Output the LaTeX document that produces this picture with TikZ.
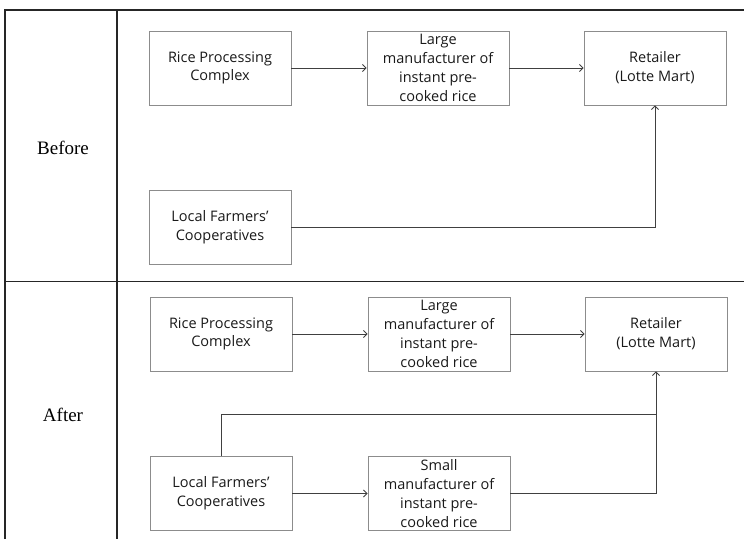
\documentclass[tikz,border=0pt]{standalone}
\usepackage{fontspec}
\setmainfont{Open Sans}
\newfontfamily\labelfont{Liberation Serif}
\usetikzlibrary{arrows.meta}
\definecolor{boxgray}{HTML}{8C8C8C}
\definecolor{linegray}{HTML}{404040}
\definecolor{tablegray}{HTML}{262626}
\begin{document}
\begin{tikzpicture}[x=1pt,y=-1pt,
  flowbox/.style={draw=boxgray, line width=0.9pt, minimum width=142pt, minimum height=74pt,
    inner sep=0pt, align=center, text=black!90, font=\fontsize{14.5}{18.8}\selectfont},
  flow/.style={draw=linegray, line width=0.9pt, -{Straight Barb[length=3.5pt,width=7pt]}},
  plain/.style={draw=linegray, line width=0.9pt},
  tableline/.style={draw=tablegray, line width=1.4pt},
  rowlabel/.style={font=\labelfont\fontsize{19}{22}\selectfont, text=black}]
\useasboundingbox (0,0) rectangle (744,539);
% table
\draw[tableline] (5,539) -- (5,10) -- (744,10);
\draw[tableline] (5,281.5) -- (744,281.5);
\draw[tableline] (117,10) -- (117,539);
\node[rowlabel] (before) at (63,148) {Before};
\node[rowlabel] (after) at (63,415) {After};
% Before
\node[flowbox] (rpc1) at (220,68) {Rice Processing\\Complex};
\node[flowbox] (lm1) at (438,68) {Large\\manufacturer of\\instant pre-\\cooked rice};
\node[flowbox] (ret1) at (655,68) {Retailer\\(Lotte Mart)};
\node[flowbox] (lfc1) at (220,227) {Local Farmers’\\Cooperatives};
\draw[flow] (rpc1.east) -- (lm1.west);
\draw[flow] (lm1.east) -- (ret1.west);
\draw[flow] (lfc1.east) -- (ret1.south |- lfc1.east) -- (ret1.south);
% After
\node[flowbox] (rpc2) at (221,334) {Rice Processing\\Complex};
\node[flowbox] (lm2) at (439,334) {Large\\manufacturer of\\instant pre-\\cooked rice};
\node[flowbox] (ret2) at (656,334) {Retailer\\(Lotte Mart)};
\node[flowbox] (lfc2) at (221,493.5) {Local Farmers’\\Cooperatives};
\node[flowbox] (sm2) at (439,493.5) {Small\\manufacturer of\\instant pre-\\cooked rice};
\coordinate (j) at (656,414);
\draw[flow] (rpc2.east) -- (lm2.west);
\draw[flow] (lm2.east) -- (ret2.west);
\draw[flow] (lfc2.east) -- (sm2.west);
\draw[flow] (sm2.east) -- (ret2.south |- sm2.east) -- (ret2.south);
\draw[plain] (lfc2.north) |- (j);
\end{tikzpicture}
\end{document}
